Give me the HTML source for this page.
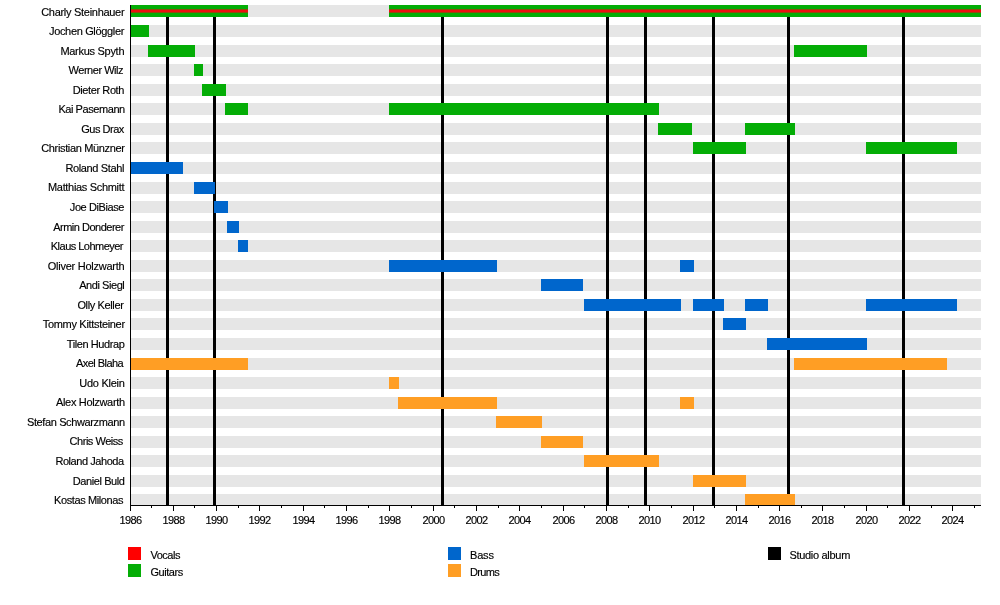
<!DOCTYPE html>
<html lang="en"><head><meta charset="utf-8"><title>Timeline</title>
<style>
html,body{margin:0;padding:0;background:#fff}
body{width:1000px;height:605px;overflow:hidden}
svg{display:block}
text{font-family:"Liberation Sans",Arial,sans-serif;font-size:11px;fill:#000;stroke:#000;stroke-width:0.15px}
</style></head><body>
<svg width="1000" height="605" viewBox="0 0 1000 605">
<rect width="1000" height="605" fill="#fff"/>
<g fill="#e6e6e6" shape-rendering="crispEdges">
<rect x="130" y="5" width="851" height="12"/>
<rect x="130" y="25" width="851" height="12"/>
<rect x="130" y="45" width="851" height="12"/>
<rect x="130" y="64" width="851" height="12"/>
<rect x="130" y="84" width="851" height="12"/>
<rect x="130" y="103" width="851" height="12"/>
<rect x="130" y="123" width="851" height="12"/>
<rect x="130" y="142" width="851" height="12"/>
<rect x="130" y="162" width="851" height="12"/>
<rect x="130" y="182" width="851" height="12"/>
<rect x="130" y="201" width="851" height="12"/>
<rect x="130" y="221" width="851" height="12"/>
<rect x="130" y="240" width="851" height="12"/>
<rect x="130" y="260" width="851" height="12"/>
<rect x="130" y="279" width="851" height="12"/>
<rect x="130" y="299" width="851" height="12"/>
<rect x="130" y="318" width="851" height="12"/>
<rect x="130" y="338" width="851" height="12"/>
<rect x="130" y="358" width="851" height="12"/>
<rect x="130" y="377" width="851" height="12"/>
<rect x="130" y="397" width="851" height="12"/>
<rect x="130" y="416" width="851" height="12"/>
<rect x="130" y="436" width="851" height="12"/>
<rect x="130" y="455" width="851" height="12"/>
<rect x="130" y="475" width="851" height="12"/>
<rect x="130" y="494" width="851" height="12"/>
</g>
<g fill="#000" shape-rendering="crispEdges">
<rect x="166" y="5" width="3" height="500"/>
<rect x="213" y="5" width="3" height="500"/>
<rect x="441" y="5" width="3" height="500"/>
<rect x="606" y="5" width="3" height="500"/>
<rect x="644" y="5" width="3" height="500"/>
<rect x="712" y="5" width="3" height="500"/>
<rect x="787" y="5" width="3" height="500"/>
<rect x="902" y="5" width="3" height="500"/>
</g>
<g shape-rendering="crispEdges">
<rect x="130" y="5" width="118" height="12" fill="#04ad06"/>
<rect x="389" y="5" width="592" height="12" fill="#04ad06"/>
<rect x="130" y="25" width="19" height="12" fill="#04ad06"/>
<rect x="148" y="45" width="47" height="12" fill="#04ad06"/>
<rect x="794" y="45" width="73" height="12" fill="#04ad06"/>
<rect x="194" y="64" width="9" height="12" fill="#04ad06"/>
<rect x="202" y="84" width="24" height="12" fill="#04ad06"/>
<rect x="225" y="103" width="23" height="12" fill="#04ad06"/>
<rect x="389" y="103" width="270" height="12" fill="#04ad06"/>
<rect x="658" y="123" width="34" height="12" fill="#04ad06"/>
<rect x="745" y="123" width="50" height="12" fill="#04ad06"/>
<rect x="693" y="142" width="53" height="12" fill="#04ad06"/>
<rect x="866" y="142" width="91" height="12" fill="#04ad06"/>
<rect x="130" y="162" width="53" height="12" fill="#0066cc"/>
<rect x="194" y="182" width="21" height="12" fill="#0066cc"/>
<rect x="214" y="201" width="14" height="12" fill="#0066cc"/>
<rect x="227" y="221" width="12" height="12" fill="#0066cc"/>
<rect x="238" y="240" width="10" height="12" fill="#0066cc"/>
<rect x="389" y="260" width="108" height="12" fill="#0066cc"/>
<rect x="680" y="260" width="14" height="12" fill="#0066cc"/>
<rect x="541" y="279" width="42" height="12" fill="#0066cc"/>
<rect x="584" y="299" width="97" height="12" fill="#0066cc"/>
<rect x="693" y="299" width="31" height="12" fill="#0066cc"/>
<rect x="745" y="299" width="23" height="12" fill="#0066cc"/>
<rect x="866" y="299" width="91" height="12" fill="#0066cc"/>
<rect x="723" y="318" width="23" height="12" fill="#0066cc"/>
<rect x="767" y="338" width="100" height="12" fill="#0066cc"/>
<rect x="130" y="358" width="118" height="12" fill="#ff9e24"/>
<rect x="794" y="358" width="153" height="12" fill="#ff9e24"/>
<rect x="389" y="377" width="10" height="12" fill="#ff9e24"/>
<rect x="398" y="397" width="99" height="12" fill="#ff9e24"/>
<rect x="680" y="397" width="14" height="12" fill="#ff9e24"/>
<rect x="496" y="416" width="46" height="12" fill="#ff9e24"/>
<rect x="541" y="436" width="42" height="12" fill="#ff9e24"/>
<rect x="584" y="455" width="75" height="12" fill="#ff9e24"/>
<rect x="693" y="475" width="53" height="12" fill="#ff9e24"/>
<rect x="745" y="494" width="50" height="12" fill="#ff9e24"/>
<rect x="130" y="9.4" width="118" height="3.2" fill="#ec1010" shape-rendering="geometricPrecision"/>
<rect x="389" y="9.4" width="592" height="3.2" fill="#ec1010" shape-rendering="geometricPrecision"/>
</g>
<g fill="#000" shape-rendering="crispEdges">
<rect x="130" y="5" width="1" height="501"/>
<rect x="130" y="505" width="851" height="1"/>
<rect x="130" y="505" width="1" height="6"/>
<rect x="151" y="505" width="1" height="3"/>
<rect x="173" y="505" width="1" height="6"/>
<rect x="194" y="505" width="1" height="3"/>
<rect x="216" y="505" width="1" height="6"/>
<rect x="238" y="505" width="1" height="3"/>
<rect x="259" y="505" width="1" height="6"/>
<rect x="281" y="505" width="1" height="3"/>
<rect x="303" y="505" width="1" height="6"/>
<rect x="324" y="505" width="1" height="3"/>
<rect x="346" y="505" width="1" height="6"/>
<rect x="368" y="505" width="1" height="3"/>
<rect x="389" y="505" width="1" height="6"/>
<rect x="411" y="505" width="1" height="3"/>
<rect x="433" y="505" width="1" height="6"/>
<rect x="454" y="505" width="1" height="3"/>
<rect x="476" y="505" width="1" height="6"/>
<rect x="498" y="505" width="1" height="3"/>
<rect x="519" y="505" width="1" height="6"/>
<rect x="541" y="505" width="1" height="3"/>
<rect x="563" y="505" width="1" height="6"/>
<rect x="584" y="505" width="1" height="3"/>
<rect x="606" y="505" width="1" height="6"/>
<rect x="628" y="505" width="1" height="3"/>
<rect x="649" y="505" width="1" height="6"/>
<rect x="671" y="505" width="1" height="3"/>
<rect x="693" y="505" width="1" height="6"/>
<rect x="714" y="505" width="1" height="3"/>
<rect x="736" y="505" width="1" height="6"/>
<rect x="758" y="505" width="1" height="3"/>
<rect x="779" y="505" width="1" height="6"/>
<rect x="801" y="505" width="1" height="3"/>
<rect x="822" y="505" width="1" height="6"/>
<rect x="844" y="505" width="1" height="3"/>
<rect x="866" y="505" width="1" height="6"/>
<rect x="887" y="505" width="1" height="3"/>
<rect x="909" y="505" width="1" height="6"/>
<rect x="931" y="505" width="1" height="3"/>
<rect x="952" y="505" width="1" height="6"/>
<rect x="974" y="505" width="1" height="3"/>
</g>
<g>
<text x="41.20" y="15.6" style="letter-spacing:-0.289px">Charly Steinhauer</text>
<text x="49.00" y="35.1" style="letter-spacing:-0.339px">Jochen Glöggler</text>
<text x="60.40" y="54.6" style="letter-spacing:-0.284px">Markus Spyth</text>
<text x="68.60" y="74.2" style="letter-spacing:-0.480px">Werner Wilz</text>
<text x="72.80" y="93.7" style="letter-spacing:-0.408px">Dieter Roth</text>
<text x="58.40" y="113.2" style="letter-spacing:-0.431px">Kai Pasemann</text>
<text x="81.20" y="132.8" style="letter-spacing:-0.480px">Gus Drax</text>
<text x="41.20" y="152.3" style="letter-spacing:-0.345px">Christian Münzner</text>
<text x="65.40" y="171.9" style="letter-spacing:-0.365px">Roland Stahl</text>
<text x="48.00" y="191.4" style="letter-spacing:-0.324px">Matthias Schmitt</text>
<text x="69.80" y="210.9" style="letter-spacing:-0.408px">Joe DiBiase</text>
<text x="53.20" y="230.5" style="letter-spacing:-0.494px">Armin Donderer</text>
<text x="50.80" y="250.0" style="letter-spacing:-0.522px">Klaus Lohmeyer</text>
<text x="47.80" y="269.6" style="letter-spacing:-0.252px">Oliver Holzwarth</text>
<text x="79.20" y="289.1" style="letter-spacing:-0.440px">Andi Siegl</text>
<text x="77.40" y="308.6" style="letter-spacing:-0.372px">Olly Keller</text>
<text x="42.80" y="328.2" style="letter-spacing:-0.322px">Tommy Kittsteiner</text>
<text x="66.80" y="347.7" style="letter-spacing:-0.415px">Tilen Hudrap</text>
<text x="76.00" y="367.3" style="letter-spacing:-0.540px">Axel Blaha</text>
<text x="79.20" y="386.8" style="letter-spacing:-0.255px">Udo Klein</text>
<text x="56.00" y="406.3" style="letter-spacing:-0.328px">Alex Holzwarth</text>
<text x="27.00" y="425.9" style="letter-spacing:-0.385px">Stefan Schwarzmann</text>
<text x="69.60" y="445.4" style="letter-spacing:-0.480px">Chris Weiss</text>
<text x="55.40" y="465.0" style="letter-spacing:-0.435px">Roland Jahoda</text>
<text x="72.80" y="484.5" style="letter-spacing:-0.408px">Daniel Buld</text>
<text x="54.00" y="504.1" style="letter-spacing:-0.397px">Kostas Milonas</text>
</g>
<g>
<text x="119.50" y="524.2" style="letter-spacing:-0.600px">1986</text>
<text x="162.50" y="524.2" style="letter-spacing:-0.600px">1988</text>
<text x="205.50" y="524.2" style="letter-spacing:-0.600px">1990</text>
<text x="248.50" y="524.2" style="letter-spacing:-0.600px">1992</text>
<text x="292.50" y="524.2" style="letter-spacing:-0.600px">1994</text>
<text x="335.50" y="524.2" style="letter-spacing:-0.600px">1996</text>
<text x="378.50" y="524.2" style="letter-spacing:-0.600px">1998</text>
<text x="422.50" y="524.2" style="letter-spacing:-0.600px">2000</text>
<text x="465.50" y="524.2" style="letter-spacing:-0.600px">2002</text>
<text x="508.50" y="524.2" style="letter-spacing:-0.600px">2004</text>
<text x="552.50" y="524.2" style="letter-spacing:-0.600px">2006</text>
<text x="595.50" y="524.2" style="letter-spacing:-0.600px">2008</text>
<text x="638.50" y="524.2" style="letter-spacing:-0.600px">2010</text>
<text x="682.50" y="524.2" style="letter-spacing:-0.600px">2012</text>
<text x="725.50" y="524.2" style="letter-spacing:-0.600px">2014</text>
<text x="768.50" y="524.2" style="letter-spacing:-0.600px">2016</text>
<text x="811.50" y="524.2" style="letter-spacing:-0.600px">2018</text>
<text x="855.50" y="524.2" style="letter-spacing:-0.600px">2020</text>
<text x="898.50" y="524.2" style="letter-spacing:-0.600px">2022</text>
<text x="941.50" y="524.2" style="letter-spacing:-0.600px">2024</text>
</g>
<g>
<rect x="128" y="547" width="13" height="13" fill="#ff0000" shape-rendering="crispEdges"/><text x="150.40" y="559" style="letter-spacing:-0.480px">Vocals</text>
<rect x="128" y="564" width="13" height="13" fill="#04ad06" shape-rendering="crispEdges"/><text x="150.40" y="576" style="letter-spacing:-0.450px">Guitars</text>
<rect x="448" y="547" width="13" height="13" fill="#0066cc" shape-rendering="crispEdges"/><text x="470.00" y="559" style="letter-spacing:-0.180px">Bass</text>
<rect x="448" y="564" width="13" height="13" fill="#ff9e24" shape-rendering="crispEdges"/><text x="470.00" y="576" style="letter-spacing:-0.660px">Drums</text>
<rect x="768" y="547" width="13" height="13" fill="#000" shape-rendering="crispEdges"/><text x="789.40" y="559" style="letter-spacing:-0.298px">Studio album</text>
</g>
</svg>
</body></html>
